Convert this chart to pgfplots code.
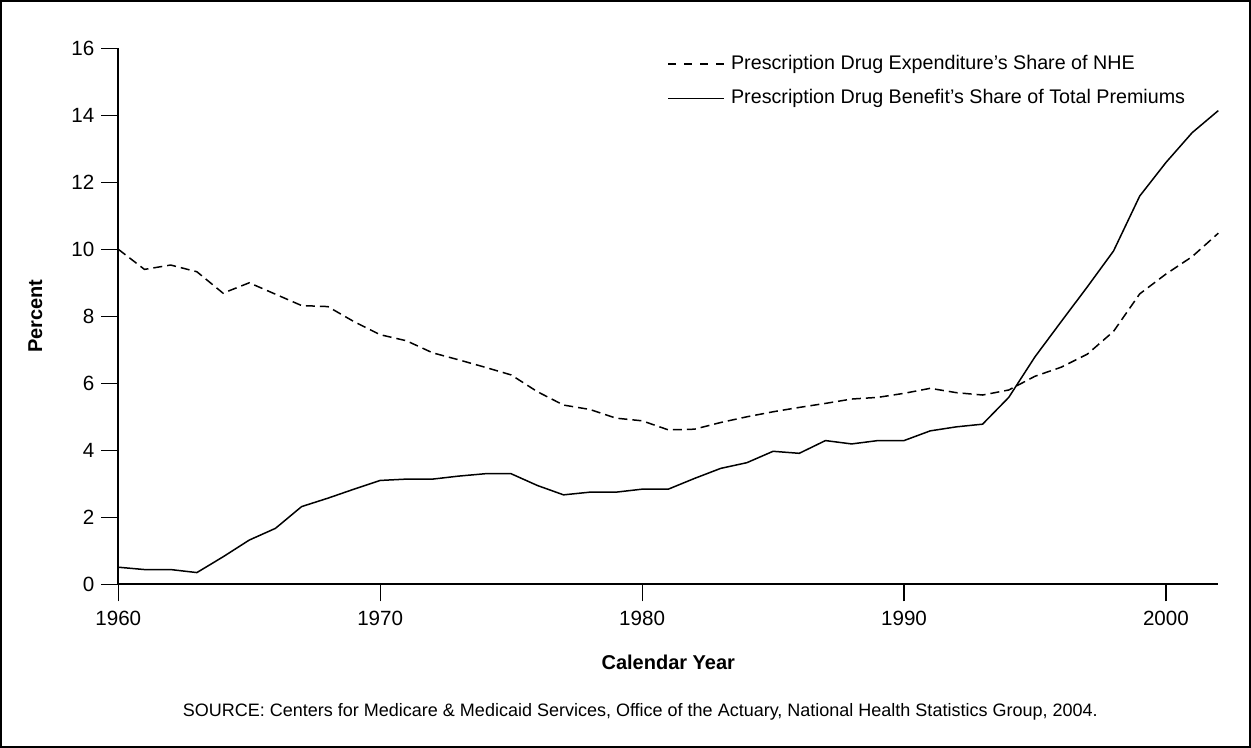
\documentclass[border=0pt]{standalone}
\usepackage{pgfplots}
\pgfplotsset{compat=1.18}
\usepackage{pgfplotstable}
\usepackage{fontspec}
\setmainfont{Liberation Sans}
\pgfplotstableread{
year nhe prem
1960 10.00 0.51
1961 9.40 0.44
1962 9.53 0.44
1963 9.33 0.35
1964 8.69 0.82
1965 9.00 1.32
1966 8.66 1.67
1967 8.32 2.32
1968 8.29 2.57
1969 7.84 2.84
1970 7.45 3.10
1971 7.27 3.14
1972 6.91 3.14
1973 6.70 3.23
1974 6.48 3.30
1975 6.25 3.30
1976 5.75 2.95
1977 5.35 2.67
1978 5.22 2.75
1979 4.96 2.75
1980 4.88 2.84
1981 4.61 2.84
1982 4.63 3.16
1983 4.83 3.46
1984 5.00 3.63
1985 5.15 3.97
1986 5.28 3.91
1987 5.40 4.29
1988 5.53 4.19
1989 5.58 4.29
1990 5.70 4.29
1991 5.85 4.58
1992 5.72 4.70
1993 5.65 4.78
1994 5.80 5.58
1995 6.21 6.79
1996 6.48 7.84
1997 6.87 8.88
1998 7.55 9.95
1999 8.67 11.59
2000 9.26 12.59
2001 9.78 13.48
2002 10.48 14.14
}\datatable
\begin{document}
\begin{tikzpicture}
\useasboundingbox (-59.15pt,-81.85pt) rectangle (566.35pt,292.15pt);
\draw[line width=1pt] (-58.65pt,-81.35pt) rectangle (565.85pt,291.65pt);
\begin{axis}[
  at={(0,0)}, anchor=south west,
  scale only axis, width=550pt, height=268pt,
  xmin=1960, xmax=2002, ymin=0, ymax=16,
  axis lines*=left, axis line style={-, line width=0.8pt},
  xtick={1960,1970,1980,1990,2000}, ytick={0,2,...,16},
  tick align=outside, major tick length=8.5pt,
  tick style={line width=0.6pt, black},
  /pgf/number format/assume math mode=true,
  xticklabel style={/pgf/number format/1000 sep={}, font=\fontsize{10.3}{12}\selectfont, yshift=-1.5pt},
  yticklabel style={font=\fontsize{10.3}{12}\selectfont},
  xlabel={\bfseries Calendar Year}, ylabel={\bfseries Percent},
  xlabel style={font=\fontsize{10}{12}\selectfont, at={(0.5,0)}, yshift=-39pt, anchor=center},
  ylabel style={font=\fontsize{10}{12}\selectfont, at={(-0.0755,0.5)}, anchor=center},
  clip=false,
  legend style={draw=none, fill=none, at={(0.499,0.995)}, anchor=north west,
    font=\fontsize{9.85}{12}\selectfont, row sep=4.5pt, inner sep=0pt},
  legend cell align=left,
  legend image code/.code={\draw[#1] (0pt,0pt) -- (28pt,0pt);},
]
\addplot[black, line width=0.75pt, dash pattern=on 4.5pt off 2.5pt, legend image post style={dash pattern=on 4pt off 4pt}] table[x=year, y=nhe] {\datatable};
\addlegendentry{\hspace{1pt}Prescription Drug Expenditure’s Share of NHE}
\addplot[black, line width=0.75pt] table[x=year, y=prem] {\datatable};
\addlegendentry{\hspace{1pt}Prescription Drug Benefit’s Share of Total Premiums}
\end{axis}
\node[font=\fontsize{9}{11}\selectfont, anchor=center] at (261pt,-64pt) {SOURCE: Centers for Medicare \& Medicaid Services, Office of the Actuary, National Health Statistics Group, 2004.};
\end{tikzpicture}
\end{document}
